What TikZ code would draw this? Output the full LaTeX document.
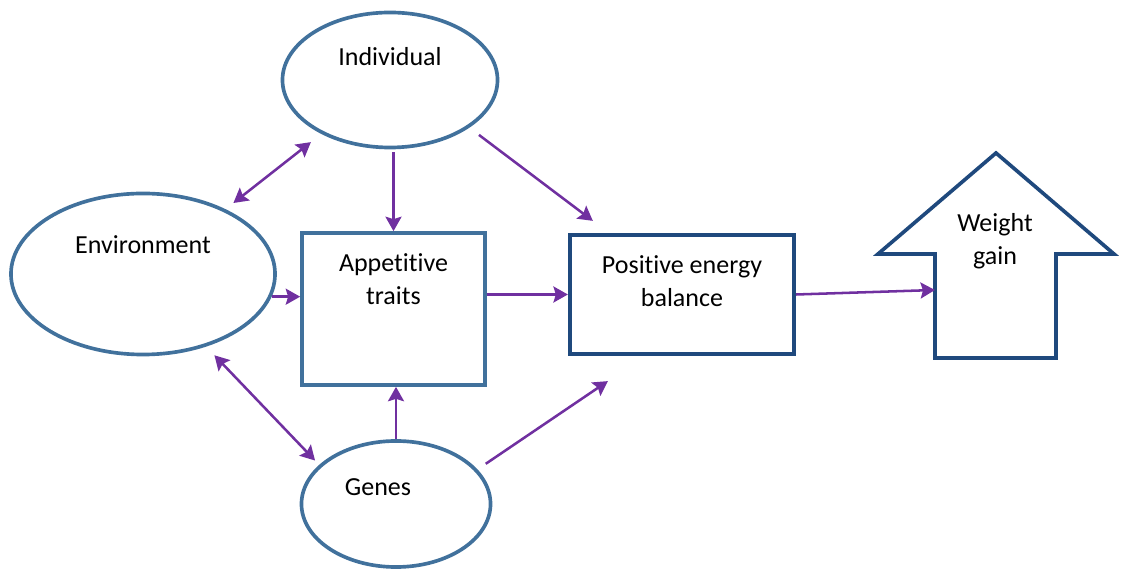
\documentclass[tikz,border=0pt]{standalone}
\usepackage{fontspec}
\setmainfont{Carlito}[Ligatures=NoCommon]
\usetikzlibrary{shapes.geometric,arrows.meta,calc}
\definecolor{ovalblue}{RGB}{65,113,156}
\definecolor{boxnavy}{RGB}{31,73,125}
\definecolor{linkpurple}{RGB}{112,48,160}

\tikzset{
    oval/.style={ellipse, draw=ovalblue, line width=2.6pt, inner sep=0pt},
    trait/.style={rectangle, draw=ovalblue, line width=2.6pt, inner sep=0pt},
    balance/.style={rectangle, draw=boxnavy, line width=3pt, inner sep=0pt},
    link/.style={draw=linkpurple, line width=1.8pt, ->},
}

\begin{document}
\begin{tikzpicture}[x=0.025cm, y=-0.025cm, font=\fontsize{18.5}{23.5}\selectfont,
        >={Stealth[length=3.6mm,width=4mm,inset=0.6mm]}]
        \useasboundingbox (0,0) rectangle (1121,569);
        % Ovals
        \node (ind) at (390,80) [oval, minimum width=5.375cm, minimum height=3.375cm,
            label={[yshift=0.575cm]center:Individual}] {};
        \node (env) at (143,274) [oval, minimum width=6.6cm, minimum height=4.025cm,
            label={[yshift=0.725cm]center:Environment}] {};
        \node (gen) at (396,504) [oval, minimum width=4.725cm, minimum height=3.15cm,
            label={[xshift=-0.45cm, yshift=0.425cm]center:Genes}] {};
        % Boxes
        \node (app) at (393.5,309) [trait, minimum width=4.575cm, minimum height=3.8cm,
            label={[yshift=0.75cm, align=center]center:Appetitive\\traits}] {};
        \node (peb) at (682,294.5) [balance, minimum width=5.6cm, minimum height=2.975cm,
            label={[yshift=0.325cm, align=center]center:Positive energy\\balance}] {};
        % Weight gain arrow
        \draw[draw=boxnavy, line width=2.6pt, line join=miter]
            (996,153) -- (1114,254) -- (1056,254) -- (1056,358) -- (935,358)
            -- (935,254) -- (878,254) -- cycle;
        \node (wg) at (995,241) [align=center] {Weight\\gain};
        \coordinate (wgin) at (935,290);
        % Links
        \draw[link, <->, shorten <=0.25cm, shorten >=0.33cm] (env) -- (ind);
        \draw[link, shorten <=0.075cm] (ind.south -| app.north) -- (app.north);
        \draw[link, shorten <=0.3cm] (ind.-31) -- ([shift={(25,-12)}]peb.north west);
        \draw[link] (env.-10) -- (env.-10 -| app.west);
        \draw[link] (app.east |- peb.west) -- (peb.west);
        \draw[link] (peb.east) -- (wgin);
        \draw[link, <->, shorten <=0.3cm, shorten >=0.15cm] (env.-49) -- (gen.153);
        \draw[link] (gen.north) -- (gen.north |- app.south);
        \draw[link, shorten <=0.25cm] (gen.23) -- ([shift={(40,25)}]peb.south west);
\end{tikzpicture}
\end{document}
